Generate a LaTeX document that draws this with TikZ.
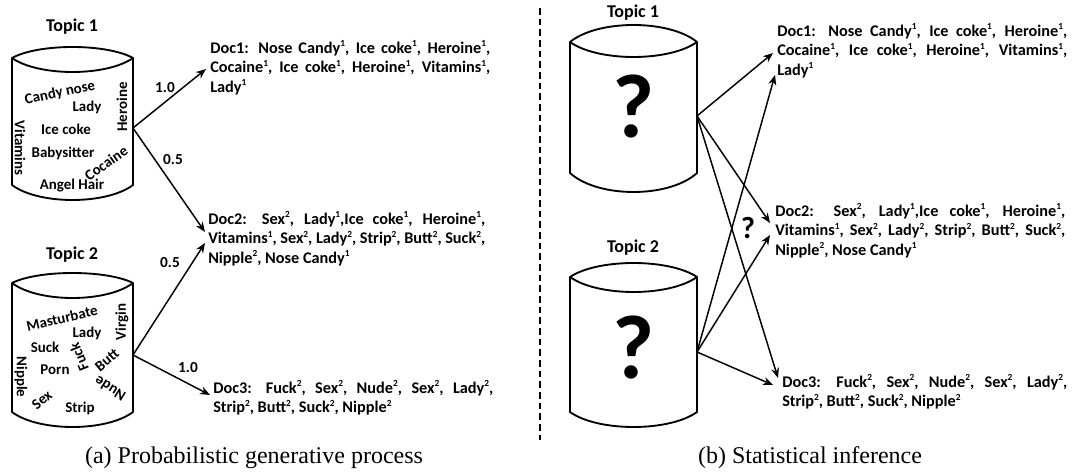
\documentclass[tikz,border=0pt]{standalone}
\usepackage{fontspec}
\setmainfont{Liberation Serif}
\newfontfamily\calfont{Carlito}
\usetikzlibrary{arrows.meta,calc}
\newcommand\jline[2]{\makebox[#1][s]{#2}}
\newcommand\supa{\raisebox{0.42em}{\fontsize{7}{7}\selectfont 1}}
\newcommand\supb{\raisebox{0.42em}{\fontsize{7}{7}\selectfont 2}}
\newcommand\mycyl[7]{%
\draw[cylline] (#1,#3) .. controls ({#1+(#2-#1)*0.22},{#3+(#4-#3)*4/3}) and ({#2-(#2-#1)*0.22},{#3+(#4-#3)*4/3}) .. (#2,#3)
 .. controls ({#2-(#2-#1)*0.22},{#3+(#5-#3)*4/3}) and ({#1+(#2-#1)*0.22},{#3+(#5-#3)*4/3}) .. (#1,#3) -- (#1,#6)
 .. controls ({#1+(#2-#1)*0.22},{#6+(#7-#6)*4/3}) and ({#2-(#2-#1)*0.22},{#6+(#7-#6)*4/3}) .. (#2,#6) -- (#2,#3);}
\begin{document}
\begin{tikzpicture}[x=0.75pt,y=-0.75pt,
 cylline/.style={line width=1.4pt,line join=round},
 arr/.style={line width=1.1pt,-{Stealth[length=7.5pt,width=6pt]}},
 word/.style={font=\calfont\bfseries\fontsize{11.2}{12}\selectfont,inner sep=0},
 topic/.style={font=\calfont\bfseries\fontsize{13.5}{15}\selectfont,inner sep=0},
 doc/.style={font=\calfont\bfseries\fontsize{12.2}{14.8}\selectfont,anchor=north west,inner sep=0,align=left},
 lab/.style={font=\calfont\bfseries\fontsize{11.5}{12}\selectfont,inner sep=0},
 qm/.style={font=\calfont\bfseries\fontsize{68}{68}\selectfont,inner sep=0},
 qms/.style={font=\calfont\bfseries\fontsize{23}{23}\selectfont,inner sep=0},
 capt/.style={font=\fontsize{18}{20}\selectfont,inner sep=0}]
\useasboundingbox (0,0) rectangle (1080,473);
% ---------- panel (a)
\mycyl{12}{133}{58}{47}{72}{185}{200}
\mycyl{12}{133}{283}{273}{298}{412}{427}
\node[topic] (T1) at (72,27) {Topic 1};
\node[topic] (T2) at (72,255) {Topic 2};
\node[word,rotate=12] (w1) at (60,93) {Candy nose};
\node[word] (w2) at (87,107) {Lady};
\node[word,rotate=90] (w3) at (122,107) {Heroine};
\node[word] (w4) at (66,129) {Ice coke};
\node[word,rotate=-90] (w5) at (20,148) {Vitamins};
\node[word] (w6) at (63,153) {Babysitter};
\node[word,rotate=35] (w7) at (106,163) {Cocaine};
\node[word] (w8) at (72,186) {Angel Hair};
\node[word,rotate=13] (v1) at (62,318) {Masturbate};
\node[word] (v2) at (87,333) {Lady};
\node[word,rotate=90] (v3) at (122,322) {Virgin};
\node[word] (v4) at (45,347) {Suck};
\node[word,rotate=112] (v5) at (79,357) {Fuck};
\node[word,rotate=40] (v6) at (107,360) {Butt};
\node[word] (v7) at (55,370) {Porn};
\node[word,rotate=-90] (v8) at (21,377) {Nipple};
\node[word,rotate=148] (v9) at (110,389) {Nude};
\node[word,rotate=40] (v10) at (42,400) {Sex};
\node[word] (v11) at (80,408) {Strip};
\coordinate (t1o) at (133,128);
\coordinate (t2o) at (133,355);
\node[doc] (D1) at (210,40) {\jline{210pt}{Doc1: Nose Candy\supa, Ice coke\supa, Heroine\supa,}\\
\jline{210pt}{Cocaine\supa, Ice coke\supa, Heroine\supa, Vitamins\supa,}\\ Lady\supa};
\node[doc] (D2) at (208,211) {\jline{207.75pt}{Doc2: Sex\supb, Lady\supa,Ice coke\supa, Heroine\supa,}\\
\jline{207.75pt}{Vitamins\supa, Sex\supb, Lady\supb, Strip\supb, Butt\supb, Suck\supb,}\\ Nipple\supb, Nose Candy\supa};
\node[doc] (D3) at (213,380) {\jline{210pt}{Doc3: Fuck\supb, Sex\supb, Nude\supb, Sex\supb, Lady\supb,}\\
Strip\supb, Butt\supb, Suck\supb, Nipple\supb};
\coordinate (d1a) at (206,69);
\coordinate (d2a) at (205,232);
\coordinate (d2b) at (205,243);
\coordinate (d3a) at (210,395);
\draw[arr] (t1o) -- (d1a);
\draw[arr] (t1o) -- (d2a);
\draw[arr] (t2o) -- (d2b);
\draw[arr] (t2o) -- (d3a);
\node[lab] (l1) at (165,88) {1.0};
\node[lab] (l2) at (173,160) {0.5};
\node[lab] (l3) at (170,263) {0.5};
\node[lab] (l4) at (188,368) {1.0};
% ---------- separator
\coordinate (s1) at (540,8);
\coordinate (s2) at (540,440);
\draw[line width=0.8pt,dash pattern=on 5pt off 3pt] (s1) -- (s2);
% ---------- panel (b)
\mycyl{570}{697}{42}{25}{57}{173}{192}
\mycyl{570}{697}{277}{263}{292}{412}{427}
\node[topic] (T3) at (633,13) {Topic 1};
\node[topic] (T4) at (633,248) {Topic 2};
\node[qm] (Q1) at (633,107) {?};
\node[qm] (Q2) at (633,348) {?};
\node[qms] (Q3) at (748,228) {?};
\coordinate (t3o) at (697,116);
\coordinate (t4o) at (697,352);
\node[doc] (E1) at (777,23) {\jline{217.5pt}{Doc1: Nose Candy\supa, Ice coke\supa, Heroine\supa,}\\
\jline{217.5pt}{Cocaine\supa, Ice coke\supa, Heroine\supa, Vitamins\supa,}\\ Lady\supa};
\node[doc] (E2) at (775,203) {\jline{217.5pt}{Doc2: Sex\supb, Lady\supa,Ice coke\supa, Heroine\supa,}\\
\jline{217.5pt}{Vitamins\supa, Sex\supb, Lady\supb, Strip\supb, Butt\supb, Suck\supb,}\\ Nipple\supb, Nose Candy\supa};
\node[doc] (E3) at (782,374) {\jline{213.75pt}{Doc3: Fuck\supb, Sex\supb, Nude\supb, Sex\supb, Lady\supb,}\\
Strip\supb, Butt\supb, Suck\supb, Nipple\supb};
\coordinate (e1a) at (773,53);
\coordinate (e1b) at (775,75);
\coordinate (e2a) at (770,223);
\coordinate (e2b) at (770,235);
\coordinate (e3a) at (778,378);
\coordinate (e3b) at (773,385);
\draw[arr] (t3o) -- (e1a);
\draw[arr] (t3o) -- (e2a);
\draw[arr] (t3o) -- (e3a);
\draw[arr] (t4o) -- (e1b);
\draw[arr] (t4o) -- (e2b);
\draw[arr] (t4o) -- (e3b);
% ---------- captions
\node[capt] (ca) at (254,458) {(a) Probabilistic generative process};
\node[capt] (cb) at (810,458) {(b) Statistical inference};
\end{tikzpicture}
\end{document}
